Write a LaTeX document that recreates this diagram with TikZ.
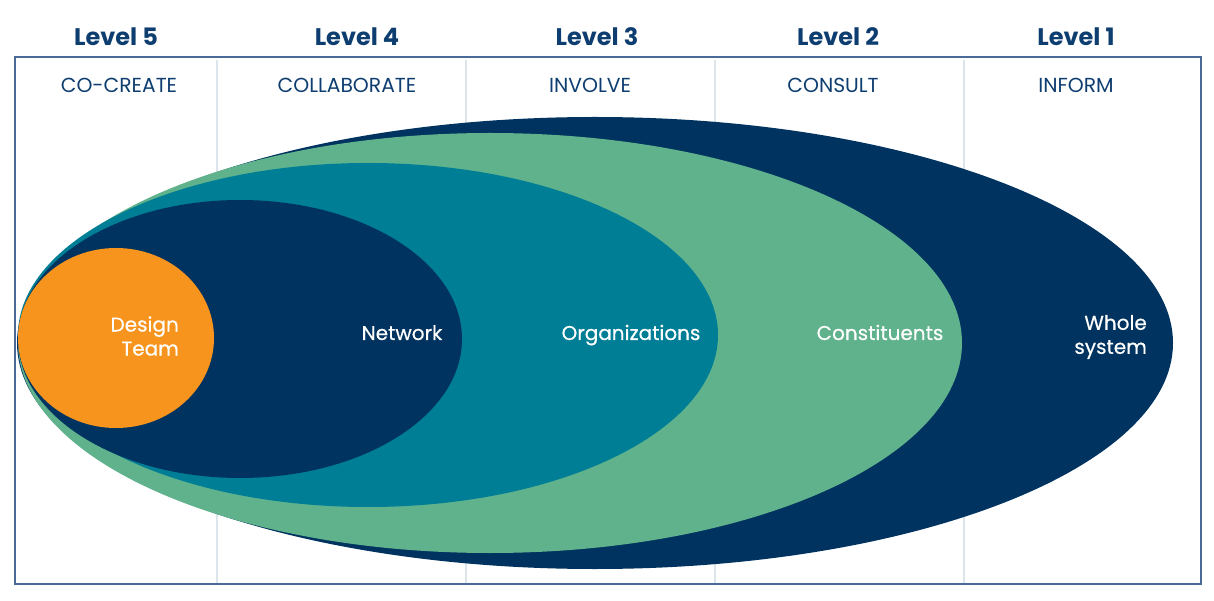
\documentclass[tikz,border=0pt]{standalone}
\usepackage{fontspec}
\setmainfont{Poppins}
\newfontfamily\popmedium{Poppins}[FakeBold=0.45]
\usepackage{tikz}
\usetikzlibrary{positioning}

\definecolor{navy}{HTML}{00335F}
\definecolor{sage}{HTML}{5FB28C}
\definecolor{teal}{HTML}{007E96}
\definecolor{amber}{HTML}{F7941D}
\definecolor{inkblue}{HTML}{0E3E70}
\definecolor{framecol}{HTML}{4A6A99}
\definecolor{divider}{HTML}{DCE4EC}

\begin{document}
\begin{tikzpicture}[x=1pt, y=1pt,
  level/.style={text=inkblue, font=\fontsize{24}{28}\selectfont\bfseries},
  mode/.style={text=inkblue, font=\fontsize{20.3}{24}\selectfont},
  ringlabel/.style={text=white, font=\popmedium\fontsize{20}{24}\selectfont, inner sep=0pt},
  oneline/.style={ringlabel, anchor=base},
  twoline/.style={ringlabel, align=right, anchor=east}]
\useasboundingbox (0,0) rectangle (1214,600);

% column dividers
\foreach \x in {217,466,715,964}
  \draw[divider, line width=1.2pt] (\x,540) -- (\x,16);

% nested groups, outermost first
\fill[navy]  (595,257) ellipse [x radius=578, y radius=226];
\fill[sage]  (490,257) ellipse [x radius=472, y radius=210];
\fill[teal]  (368,265) ellipse [x radius=350, y radius=172];
\fill[navy]  (240,261) ellipse [x radius=222, y radius=139];
\fill[amber] (116,262) ellipse [x radius=98, y radius=90];

% frame
\draw[framecol, line width=1.6pt] (15,543) rectangle (1201,16);

% level headings
\node[level] (lv5) at (116,563) {Level 5};
\node[level] (lv4) at (357,563) {Level 4};
\node[level] (lv3) at (597,563) {Level 3};
\node[level] (lv2) at (838,563) {Level 2};
\node[level] (lv1) at (1076,563) {Level 1};

% engagement modes
\node[mode] (cocreate) at (119,515) {CO-CREATE};
\node[mode] (collab) at (347,515) {COLLABORATE};
\node[mode] (involve) at (590,515) {INVOLVE};
\node[mode] (consult) at (833,515) {CONSULT};
\node[mode] (inform) at (1076,515) {INFORM};

% group labels
\node[twoline] (design) at (179,264) {Design\\Team};
\node[oneline] (network) at (402,260) {Network};
\node[oneline] (orgs) at (631,260) {Organizations};
\node[oneline] (constit) at (880,260) {Constituents};
\node[twoline] (whole) at (1147,263) {Whole\\system};
\end{tikzpicture}
\end{document}
